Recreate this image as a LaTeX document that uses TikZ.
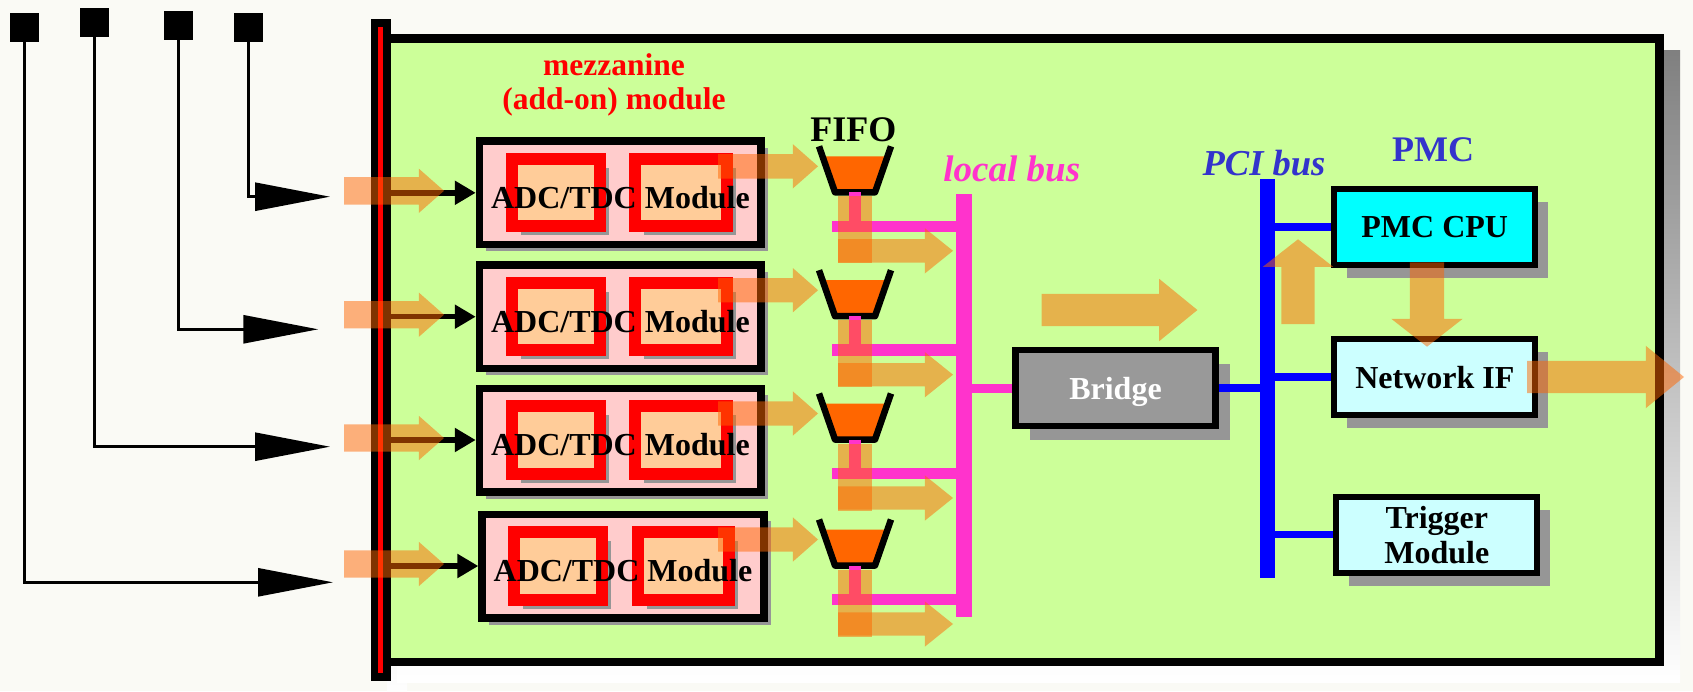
\documentclass[tikz,border=0pt]{standalone}
\usepackage{fontspec}
\setmainfont{Liberation Serif}
\usetikzlibrary{arrows.meta,shapes.arrows,shadows,calc}

\definecolor{paper}{RGB}{250,250,245}
\definecolor{board}{RGB}{204,255,153}
\definecolor{shade}{RGB}{150,150,150}
\definecolor{modpink}{RGB}{255,204,204}
\definecolor{chipfill}{RGB}{255,204,153}
\definecolor{fifoorange}{RGB}{255,102,0}
\definecolor{flowc}{RGB}{255,102,0}
\definecolor{lbpink}{RGB}{255,51,204}
\definecolor{labelblue}{RGB}{51,51,204}
\definecolor{pmccyan}{RGB}{0,255,255}
\definecolor{pmclight}{RGB}{204,255,255}
\definecolor{bridgegray}{RGB}{153,153,153}

\begin{document}
\begin{tikzpicture}[x=1pt,y=-1pt,
  boxfont/.style={font=\fontsize{32}{35}\selectfont\bfseries},
  module/.style={draw=black, line width=7.6pt, fill=modpink, inner sep=0pt,
    minimum width=281.7pt, minimum height=103.4pt,
    drop shadow={shadow xshift=6.8pt, shadow yshift=-6.8pt, fill=shade, opacity=1}},
  chip/.style={draw=red, line width=12pt, fill=chipfill, inner sep=0pt, minimum height=67.6pt,
    drop shadow={shadow xshift=9pt, shadow yshift=-9pt, fill=shade, opacity=1}},
  pmcbox/.style={draw=black, line width=6pt, inner sep=0pt, minimum width=201pt,
    minimum height=76pt, boxfont, text depth=0pt,
    drop shadow={shadow xshift=13pt, shadow yshift=-13pt, fill=shade, opacity=1}},
  flow/.style={single arrow, draw=none, fill=flowc, fill opacity=0.5, inner sep=#1,
    outer sep=0pt, anchor=tail},
  pin/.style={fill=black, minimum size=29pt, inner sep=0pt},
  pinline/.style={line width=2.7pt, -{Triangle[length=75pt,width=28pt]}},
  inarrow/.style={line width=5.5pt, -{Triangle[length=21pt,width=23pt]}},
  lbus/.style={draw=lbpink},
  pbus/.style={draw=blue},
  fifocup/.style={line width=6.5pt, line join=round}]
  \useasboundingbox (0,0) rectangle (1693,691);
  \fill[paper] (0,0) rectangle (1693,691);

  \fill[shade] (387,35) rectangle (407,697);
  \fill[shade] (397,50.5) rectangle (1680,682);
  \draw[line width=8.4pt, fill=board] (385,38.5) rectangle (1659.5,661.7);
  \node[fill=black, inner sep=0pt, minimum width=20pt, minimum height=662pt] (FP) at (381,350) {};
  \fill[red] (378,27) rectangle (383,673);

  \node[pin] (S1) at (24.5,27.5) {};
  \node[pin] (S2) at (94.5,22.5) {};
  \node[pin] (S3) at (178.5,25.5) {};
  \node[pin] (S4) at (248.5,27.5) {};
  \coordinate (T1) at (330,196.7);
  \coordinate (T2) at (318.3,329.3);
  \coordinate (T3) at (330,446.7);
  \coordinate (T4) at (333,582.3);
  \draw[pinline] (S4.south) |- (T1);
  \draw[pinline] (S3.south) |- (T2);
  \draw[pinline] (S2.south) |- (T3);
  \draw[pinline] (S1.south) |- (T4);

  \coordinate (LBt) at (963.7,194);
  \coordinate (LBb) at (963.7,617);
  \draw[lbus, line width=16pt] (LBt) -- (LBb);

  \foreach \i/\bx/\by in {1/620.4/192.8,2/620.4/316.7,3/620.4/440,4/623/566}{
    \node[module] (M\i) at (\bx,\by) {};
    \node[chip, minimum width=88pt] (C\i L) at (\bx-64.7,\by-0.3) {};
    \node[chip, minimum width=91.4pt] (C\i R) at (\bx+60.6,\by-0.3) {};
    \node[boxfont, yshift=-5pt] (L\i) at (M\i) {ADC/TDC Module};
    \draw[inarrow] (FP.east |- M\i) -- (M\i);
    \coordinate (F\i) at (855,\by-46.5);
    \fill[fifoorange, shift={(F\i)}] (-32.5,10) -- (-20,46) -- (20,46) -- (32.5,10) -- cycle;
    \draw[fifocup, shift={(F\i)}] (-36,0) -- (-20,46) -- (20,46) -- (36,0);
    \coordinate (R\i) at ($(F\i)+(-23,80)$);
    \draw[lbus, line width=11.5pt] (R\i) -- (LBt |- R\i);
    \draw[lbus, line width=11.4pt] ($(F\i)+(0,46)$) -- (F\i |- R\i);
    \node[flow=13.5pt, minimum height=100pt, minimum width=44pt, single arrow head extend=8.5pt,
      single arrow tip angle=82.7] (I\i) at (344,\by-2) {};
    \node[flow=12pt, minimum height=100pt, minimum width=44pt, single arrow head extend=10pt,
      single arrow tip angle=82.7] (J\i) at (718,\by-26.5) {};
    \fill[flowc, fill opacity=0.5] ($(F\i)+(-17,50)$) rectangle ($(F\i)+(17,117)$);
    \node[flow=11.5pt, minimum height=115pt, minimum width=45pt, single arrow head extend=11pt,
      single arrow tip angle=77.6] (K\i) at ($(F\i)+(-17,104.5)$) {};
  }

  \node[text=red, font=\fontsize{31.5}{34}\selectfont\bfseries, align=center] (MZ) at (614,85)
    {mezzanine\\(add-on) module};
  \node[font=\fontsize{36}{40}\selectfont\bfseries, anchor=base] (FL) at (853.4,141.7) {FIFO};

  \node[draw=black, line width=6.5pt, fill=bridgegray, minimum width=200pt, minimum height=76pt,
    inner sep=0pt, boxfont, text=white, text depth=0pt,
    drop shadow={shadow xshift=14.3pt, shadow yshift=-14.3pt, fill=shade, opacity=1}]
    (BR) at (1115.5,388) {Bridge};
  \draw[lbus, line width=9pt] (LBt |- BR.west) -- (BR.west);

  \node[pmcbox, fill=pmccyan] (CPU) at (1434.7,227.2) {PMC CPU};
  \node[pmcbox, fill=pmclight] (NIF) at (1434.9,376.9) {Network IF};
  \node[pmcbox, fill=pmclight, align=center] (TRG) at (1436.8,534.7) {Trigger\\Module};

  \coordinate (PCIt) at (1267,179);
  \coordinate (PCIb) at (1267,577.7);
  \draw[pbus, line width=15pt] (PCIt) -- (PCIb);
  \draw[pbus, line width=8pt] (BR.east) -- (PCIt |- BR.east);
  \draw[pbus, line width=7.5pt] (PCIt |- CPU.west) -- (CPU.west);
  \draw[pbus, line width=7.5pt] (PCIt |- NIF.west) -- (NIF.west);
  \draw[pbus, line width=7.5pt] (PCIt |- TRG.west) -- (TRG.west);

  \node[text=lbpink, font=\fontsize{37}{40}\selectfont\bfseries\itshape, anchor=base] (LBL) at (1011.8,181.7) {local bus};
  \node[text=labelblue, font=\fontsize{36.5}{40}\selectfont\bfseries\itshape, anchor=base] (PCIL) at (1264,175) {PCI bus};
  \node[text=labelblue, font=\fontsize{36}{40}\selectfont\bfseries, anchor=base] (PMCL) at (1433,161.7) {PMC};

  \node[flow=16pt, minimum height=155.8pt, minimum width=62pt, single arrow head extend=15pt,
    single arrow tip angle=78.4] (G1) at (1041.6,310) {};
  \node[flow=16.5pt, shape border rotate=90, minimum height=84.7pt, minimum width=70pt,
    single arrow head extend=18.5pt, single arrow tip angle=104] (G2) at (1298,324) {};
  \node[flow=17pt, shape border rotate=270, minimum height=84.4pt, minimum width=71pt,
    single arrow head extend=18.5pt, single arrow tip angle=104] (G3) at (1427,262.3) {};
  \node[flow=16pt, minimum height=156.8pt, minimum width=62pt, single arrow head extend=15pt,
    single arrow tip angle=78.4] (G4) at (1527.2,377) {};
\end{tikzpicture}
\end{document}
